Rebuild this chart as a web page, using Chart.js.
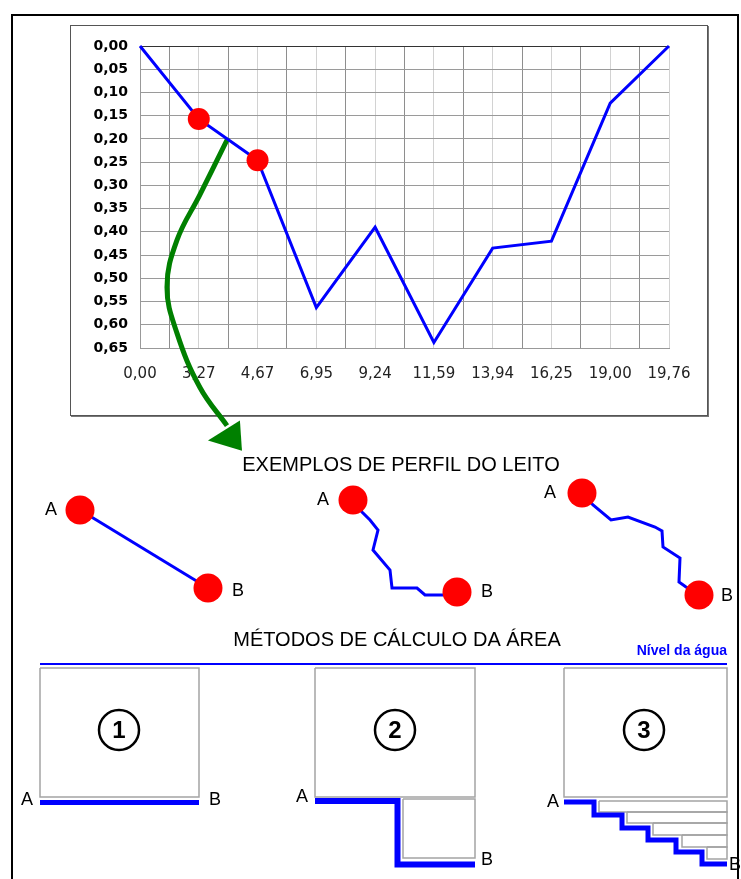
<!DOCTYPE html>
<html>
<head>
<meta charset="utf-8">
<script src="https://cdn.jsdelivr.net/npm/chart.js@4.4.0/dist/chart.umd.min.js"></script>
<style>
  html, body { margin: 0; padding: 0; background: #fff; }
  body { width: 741px; height: 879px; position: relative; overflow: hidden; }
  #frame { position: absolute; left: 11px; top: 14px; width: 728px; height: 900px; border: 2px solid #000; box-sizing: border-box; }
  #plotBox { position: absolute; left: 70px; top: 25px; width: 638px; height: 391px; border: 1px solid #555; box-shadow: 1px 1px 0 #777; box-sizing: border-box; }
  canvas { position: absolute; left: 0; }
  #profileChart { top: 0; }
  #sketchChart { top: 440px; }
</style>
</head>
<body>
<div id="frame"></div>
<div id="plotBox"></div>
<canvas id="sketchChart" width="741" height="439"></canvas>
<canvas id="profileChart" width="741" height="460"></canvas>
<script>
// profile data (distance labels, depth in m)
const stations = ['0,00', '3,27', '4,67', '6,95', '9,24', '11,59', '13,94', '16,25', '19,00', '19,76'];
const depths = [0, 0.157, 0.246, 0.563, 0.39, 0.638, 0.435, 0.42, 0.123, 0];
const markedStations = ['3,27', '4,67'];
const depthTicks = [0, 0.05, 0.1, 0.15, 0.2, 0.25, 0.3, 0.35, 0.4, 0.45, 0.5, 0.55, 0.6, 0.65];

// green arrow (station index, depth)
const arrowX = [1.497, 1.02, 0.629, 0.459, 0.629, 1.02, 1.48];
const arrowY = [0.198, 0.32, 0.418, 0.519, 0.618, 0.735, 0.817];
const arrowHeadX = [1.70, 1.156, 1.735];
const arrowHeadY = [0.806, 0.849, 0.871];

// sketch below the chart
const bedExampleA = [[80, 510], [208, 588]];
const bedExampleB = [[353, 500], [362, 512], [370, 520], [378, 530], [373, 550], [390, 570], [392, 588], [417, 588], [425, 595], [443, 595], [457, 592]];
const bedExampleC = [[582, 493], [593, 505], [611, 520], [628, 517], [655, 527], [662, 531], [663, 547], [680, 558], [679, 582], [686, 587], [699, 595]];
const waterLevel = [[40, 664], [727, 664]];
const bedMethod1 = [[40, 802.5], [199, 802.5]];
const bedMethod2 = [[315, 801], [397.5, 801], [397.5, 864.5], [475, 864.5]];
const bedMethod3 = [[564, 802], [594, 802], [594, 815], [622, 815], [622, 828], [648, 828], [648, 840], [676, 840], [676, 852], [702, 852], [702, 864], [727, 864]];
const areaBoxes = [
  [40, 668, 199, 797], [315, 668, 475, 797], [403, 799, 475, 858], [564, 668, 727, 797],
  [599, 801, 727, 812], [627, 812, 727, 823], [653, 823, 727, 835], [682, 835, 727, 847], [707, 847, 727, 859]
];
const methodNumbers = ['1', '2', '3'];
const methodCenters = [[119, 730], [395, 730], [644, 730]];

const blue = '#0000ff';
const red = '#ff0000';
const green = '#008000';

const pts = (arr) => arr.map(([x, y]) => ({ x, y }));
const boxPath = ([x0, y0, x1, y1]) => pts([[x0, y0], [x1, y0], [x1, y1], [x0, y1], [x0, y0]]);

// x grid: dark between stations, light on stations
const xTickValues = stations.flatMap((s, i) => (i < stations.length - 1 ? [i, i + 0.5] : [i]));

// arrow head is outside the plot area, so fill it here from the scales
const arrowHeadPlugin = {
  id: 'arrowHead',
  afterDatasetsDraw(chart) {
    const { ctx } = chart;
    const sx = chart.scales.x;
    const sy = chart.scales.y;
    ctx.save();
    ctx.beginPath();
    arrowHeadX.forEach((x, i) => {
      const px = sx.getPixelForValue(x);
      const py = sy.getPixelForValue(arrowHeadY[i]);
      if (i === 0) ctx.moveTo(px, py); else ctx.lineTo(px, py);
    });
    ctx.closePath();
    ctx.fillStyle = green;
    ctx.fill();
    ctx.restore();
  },
};

new Chart(document.getElementById('profileChart'), {
  type: 'line',
  data: {
    datasets: [
      {
        data: depths.map((d, i) => ({ x: i, y: d })),
        borderColor: blue,
        borderWidth: 3,
        tension: 0,
        pointRadius: stations.map((s) => (markedStations.includes(s) ? 11 : 0)),
        pointBackgroundColor: red,
        pointBorderWidth: 0,
        clip: false,
      },
      {
        data: arrowX.map((x, i) => ({ x, y: arrowY[i] })),
        borderColor: green,
        borderWidth: 5,
        tension: 0.4,
        pointRadius: 0,
        clip: false,
      },
    ],
  },
  options: {
    responsive: false,
    animation: false,
    events: [],
    layout: { autoPadding: false, padding: { left: 80, right: 72, top: 46, bottom: 72 } },
    plugins: { legend: { display: false }, tooltip: { enabled: false } },
    scales: {
      x: {
        type: 'linear',
        min: 0,
        max: stations.length - 1,
        afterBuildTicks: (s) => { s.ticks = xTickValues.map((v) => ({ value: v })); },
        afterFit: (s) => { s.height = 40; },
        grid: {
          drawTicks: false,
          color: (ctx) => (Number.isInteger(ctx.tick.value) ? '#d2d2d2' : '#8e8e8e'),
        },
        border: { color: '#999' },
        ticks: {
          autoSkip: false,
          maxRotation: 0,
          padding: 17,
          color: '#222',
          font: { family: 'DejaVu Sans', size: 15 },
          callback: (v) => (Number.isInteger(v) ? stations[v] : ''),
        },
      },
      y: {
        type: 'linear',
        reverse: true,
        min: 0,
        max: 0.65,
        afterBuildTicks: (s) => { s.ticks = depthTicks.map((v) => ({ value: v })); },
        afterFit: (s) => { s.width = 60; },
        grid: {
          drawTicks: false,
          color: (ctx) => (ctx.tick.value === 0 ? '#333' : '#9a9a9a'),
        },
        border: { color: '#999' },
        ticks: {
          padding: 12,
          color: '#000',
          font: { family: 'DejaVu Sans', size: 14, weight: 'bold' },
          callback: (v) => v.toFixed(2).replace('.', ','),
        },
      },
    },
  },
  plugins: [arrowHeadPlugin],
});

// text on the sketch
const sketchText = {
  id: 'sketchText',
  afterDatasetsDraw(chart, args, opts) {
    const { ctx } = chart;
    const sx = chart.scales.x;
    const sy = chart.scales.y;
    ctx.save();
    ctx.textBaseline = 'middle';
    opts.items.forEach((it) => {
      ctx.font = it.font;
      ctx.fillStyle = it.color || '#000';
      ctx.textAlign = it.align || 'center';
      ctx.fillText(it.text, sx.getPixelForValue(it.x), sy.getPixelForValue(it.y));
    });
    ctx.restore();
  },
};

const profileSet = (arr) => ({
  data: pts(arr),
  borderColor: blue,
  borderWidth: 3,
  pointRadius: arr.map((p, i) => (i === 0 || i === arr.length - 1 ? 14.5 : 0)),
  pointBackgroundColor: red,
  pointBorderWidth: 0,
});
const bedSet = (arr, w) => ({
  data: pts(arr),
  borderColor: blue,
  borderWidth: w,
  borderJoinStyle: 'miter',
  pointRadius: 0,
});

const labelFont = '18px "Liberation Sans", Arial, sans-serif';
const titleFont = '20px "Liberation Sans", Arial, sans-serif';

new Chart(document.getElementById('sketchChart'), {
  type: 'scatter',
  data: {
    datasets: [
      {
        data: pts(methodCenters),
        showLine: false,
        pointRadius: 20,
        pointBackgroundColor: '#fff',
        pointBorderColor: '#000',
        pointBorderWidth: 2.5,
      },
      profileSet(bedExampleA),
      profileSet(bedExampleB),
      profileSet(bedExampleC),
      bedSet(bedMethod1, 5),
      bedSet(bedMethod2, 6),
      bedSet(bedMethod3, 5),
      bedSet(waterLevel, 2),
      ...areaBoxes.map((b) => ({
        data: boxPath(b),
        borderColor: '#a4a4a4',
        borderWidth: 1.5,
        pointRadius: 0,
      })),
    ],
  },
  options: {
    responsive: false,
    animation: false,
    events: [],
    showLine: true,
    layout: { autoPadding: false, padding: 0 },
    plugins: {
      legend: { display: false },
      tooltip: { enabled: false },
      sketchText: {
        items: [
          { text: 'EXEMPLOS DE PERFIL DO LEITO', x: 401, y: 465, font: titleFont },
          { text: 'MÉTODOS DE CÁLCULO DA ÁREA', x: 397, y: 640, font: titleFont },
          { text: 'Nível da água', x: 727, y: 651, font: 'bold 14px "Liberation Sans", Arial, sans-serif', color: blue, align: 'right' },
          { text: 'A', x: 51, y: 510, font: labelFont },
          { text: 'B', x: 238, y: 591, font: labelFont },
          { text: 'A', x: 323, y: 500, font: labelFont },
          { text: 'B', x: 487, y: 592, font: labelFont },
          { text: 'A', x: 550, y: 493, font: labelFont },
          { text: 'B', x: 727, y: 596, font: labelFont },
          { text: 'A', x: 27, y: 800, font: labelFont },
          { text: 'B', x: 215, y: 800, font: labelFont },
          { text: 'A', x: 302, y: 797, font: labelFont },
          { text: 'B', x: 487, y: 860, font: labelFont },
          { text: 'A', x: 553, y: 802, font: labelFont },
          { text: 'B', x: 735, y: 865, font: labelFont },
          ...methodNumbers.map((n, i) => ({
            text: n, x: methodCenters[i][0], y: methodCenters[i][1] + 1,
            font: 'bold 24px "Liberation Sans", Arial, sans-serif',
          })),
        ],
      },
    },
    scales: {
      x: { type: 'linear', min: 0, max: 741, display: false },
      y: { type: 'linear', min: 440, max: 879, reverse: true, display: false },
    },
  },
  plugins: [sketchText],
});
</script>
</body>
</html>
